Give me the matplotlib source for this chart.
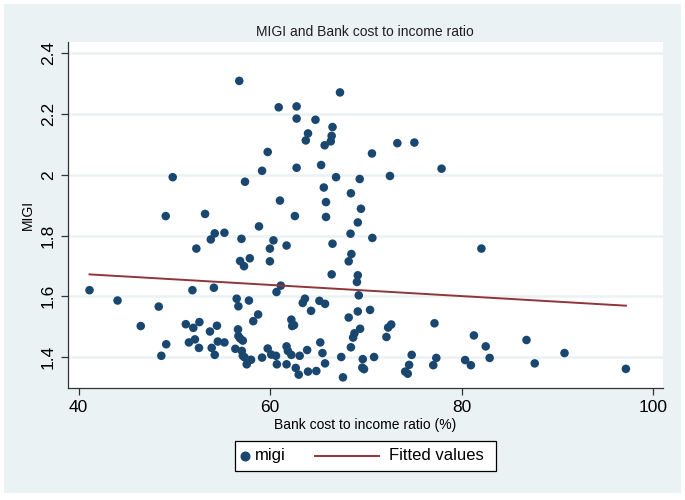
import numpy as np
import matplotlib.pyplot as plt
from matplotlib.patches import Rectangle
from matplotlib.lines import Line2D

plt.rcParams['font.family'] = ['Liberation Sans', 'DejaVu Sans']

# Bank cost to income ratio (%) and MIGI
cost_ratio = [
    56.78, 67.30, 60.90, 62.77, 62.77, 64.74, 66.52, 63.96, 66.43, 63.73,
    66.34, 65.70, 73.29, 75.07, 70.64, 59.75, 59.16, 62.77, 65.33, 77.91,
    49.83, 57.38, 66.89, 69.36, 72.52, 65.61, 68.44, 61.03, 65.84, 69.49,
    49.10, 53.21, 62.59, 65.84, 69.16, 58.84, 54.22, 55.23, 68.40,
    53.81, 57.01, 60.35, 70.68, 61.72, 66.52, 52.30, 59.98, 82.07, 68.49,
    57.88, 56.87, 59.98, 68.21, 57.28, 66.43, 69.16, 69.07, 61.12, 41.14,
    51.89, 54.13, 60.67, 69.26, 44.07, 56.51, 57.79, 63.64, 63.41, 65.15,
    65.74, 48.37, 56.69, 64.28, 69.16, 70.44, 58.75, 68.21, 62.22, 58.24,
    62.50, 62.31, 46.49, 51.20, 52.62, 51.98, 54.45, 77.17, 72.65, 72.33,
    56.65, 69.40, 53.72, 68.81, 68.67, 56.69, 81.29, 72.15, 52.15, 51.52,
    54.54, 55.23, 56.87, 57.15, 86.78, 65.24, 49.15, 82.52, 52.57, 53.90,
    56.37, 59.75, 61.72, 68.44, 57.05, 61.86, 63.87, 65.47, 90.75, 48.64,
    54.22, 57.15, 60.12, 60.62, 62.22, 63.09, 67.43, 70.86, 74.79, 57.33,
    59.16, 58.01, 69.68, 77.36, 80.37, 82.93, 57.56, 60.71, 61.72, 65.74,
    74.52, 77.04, 80.97, 87.64, 62.68, 69.63, 69.81, 97.16, 63.96, 64.83,
    74.11, 74.38, 62.99, 67.61,
]
migi = [
    2.309, 2.271, 2.222, 2.225, 2.185, 2.181, 2.157, 2.136, 2.128, 2.113,
    2.110, 2.097, 2.104, 2.106, 2.070, 2.075, 2.013, 2.023, 2.032, 2.020,
    1.992, 1.977, 1.992, 1.986, 1.996, 1.958, 1.939, 1.915, 1.910, 1.888,
    1.864, 1.871, 1.864, 1.861, 1.843, 1.830, 1.807, 1.809, 1.806,
    1.787, 1.789, 1.784, 1.792, 1.767, 1.773, 1.757, 1.757, 1.757, 1.739,
    1.725, 1.716, 1.715, 1.715, 1.699, 1.672, 1.669, 1.647, 1.635, 1.620,
    1.620, 1.628, 1.614, 1.603, 1.586, 1.592, 1.586, 1.592, 1.578, 1.585,
    1.575, 1.566, 1.567, 1.552, 1.550, 1.555, 1.540, 1.530, 1.523, 1.518,
    1.505, 1.502, 1.502, 1.508, 1.515, 1.496, 1.503, 1.511, 1.507, 1.497,
    1.491, 1.493, 1.484, 1.478, 1.464, 1.469, 1.471, 1.466, 1.458, 1.448,
    1.451, 1.448, 1.461, 1.454, 1.456, 1.448, 1.442, 1.435, 1.430, 1.430,
    1.427, 1.428, 1.435, 1.432, 1.420, 1.420, 1.423, 1.413, 1.413, 1.404,
    1.407, 1.404, 1.408, 1.404, 1.407, 1.404, 1.400, 1.400, 1.407, 1.399,
    1.398, 1.391, 1.393, 1.397, 1.390, 1.397, 1.376, 1.376, 1.376, 1.379,
    1.374, 1.373, 1.373, 1.379, 1.364, 1.365, 1.360, 1.361, 1.352, 1.354,
    1.352, 1.345, 1.342, 1.333,
]

# fitted line as drawn on the chart (ends at min and max of x)
fit_x = [41.14, 97.16]
fit_y = [1.672, 1.569]

x_ticks = [40, 60, 80, 100]
y_ticks = [1.4, 1.6, 1.8, 2.0, 2.2, 2.4]
y_labels = ['1.4', '1.6', '1.8', '2', '2.2', '2.4']

navy = '#1a476f'
maroon = '#90353b'
bg = '#eaf2f3'

W, H = 685, 500


def fx(px):
    return px / W


def fy(py):
    return 1 - py / H


fig = plt.figure(figsize=(6.85, 5.0), dpi=100, facecolor='white')
fig.patches.append(Rectangle((fx(4), fy(493)), 677 / W, 489 / H,
                             transform=fig.transFigure, facecolor=bg,
                             edgecolor='none', zorder=-10))

ax = fig.add_axes([0.0988, 0.2234, 0.869, 0.6932])
ax.set_facecolor('white')

for yt in y_ticks:
    ax.axhline(yt, color=bg, lw=1.8, zorder=1)

ax.scatter(cost_ratio, migi, s=38, color=navy, edgecolors='none', zorder=3)
ax.plot(fit_x, fit_y, color=maroon, lw=1.4, zorder=4)

ax.set_xlim(38.86, 101.03)
ax.set_ylim(1.297, 2.438)
ax.set_xticks(x_ticks)
ax.set_yticks(y_ticks)
ax.set_yticklabels(y_labels, rotation=90, va='center')
ax.tick_params(axis='both', labelsize=12.5, length=5, width=0.9,
               color='#333333', labelcolor='black')

for side in ['top', 'right']:
    ax.spines[side].set_visible(False)
for side in ['left', 'bottom']:
    ax.spines[side].set_color('#333333')
    ax.spines[side].set_linewidth(0.9)

ax.set_xlabel('Bank cost to income ratio (%)', fontsize=10, labelpad=2)
ax.set_ylabel('MIGI', fontsize=10, labelpad=4)
ax.set_title('MIGI and Bank cost to income ratio', fontsize=10,
             color='#1f1f1f', pad=4)

# legend box, laid out like Stata's
fig.patches.append(Rectangle((fx(234.6), fy(470.7)), (495.8 - 234.6) / W,
                             30 / H, transform=fig.transFigure,
                             facecolor='white', edgecolor='black', lw=0.9))
ly = fy(455.7)
fig.lines.append(Line2D([fx(245)], [ly], marker='o', ls='none', color=navy,
                        markersize=6.2, transform=fig.transFigure))
fig.text(fx(255), ly, 'migi', fontsize=12, va='center', ha='left')
fig.lines.append(Line2D([fx(315), fx(379)], [ly, ly], color=maroon, lw=1.4,
                        transform=fig.transFigure))
fig.text(fx(389), ly, 'Fitted values', fontsize=12, va='center', ha='left')

fig.savefig('out.png', dpi=100, facecolor=fig.get_facecolor())
